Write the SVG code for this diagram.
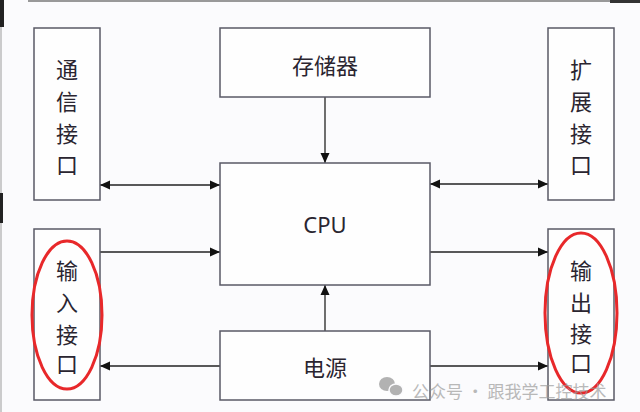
<svg xmlns="http://www.w3.org/2000/svg" width="640" height="412" viewBox="0 0 640 412">
<defs>
<style>
.box{fill:#fefefe;stroke:#5a5a66;stroke-width:1.5}
.lbl{font-family:"Noto Sans CJK SC","Noto Sans",sans-serif;font-size:22px;fill:#2a2530;text-anchor:middle;dominant-baseline:central}
.con{stroke:#222;stroke-width:1.3;fill:none}
.ring{fill:none;stroke:#e8282a;stroke-width:3}
.wm{font-family:"Noto Sans CJK SC",sans-serif;font-size:17px;fill:#9a9a9a;opacity:0.85}
</style>
<marker id="ah" viewBox="0 0 10 10" refX="10" refY="5" markerWidth="10" markerHeight="10" markerUnits="userSpaceOnUse" orient="auto-start-reverse">
<path d="M0,0.5 L10,5 L0,9.5 Z" fill="#111"/>
</marker>
</defs>
<rect width="640" height="412" fill="#fbfbfd"/>
<line x1="28" y1="1" x2="610" y2="1" stroke="#999" stroke-width="2"/>
<line x1="1" y1="0" x2="1" y2="412" stroke="#bbb" stroke-width="1.5"/>
<rect x="0" y="0" width="4" height="27" fill="#222"/>
<rect x="0" y="193" width="3" height="30" fill="#222"/>
<rect x="610" y="0" width="30" height="3" fill="#333"/>
<g id="connectors">
<line class="con" x1="325" y1="97" x2="325" y2="163" marker-end="url(#ah)"/>
<line class="con" x1="100" y1="185" x2="220" y2="185" marker-start="url(#ah)" marker-end="url(#ah)"/>
<line class="con" x1="430" y1="184" x2="548" y2="184" marker-start="url(#ah)" marker-end="url(#ah)"/>
<line class="con" x1="100" y1="252" x2="220" y2="252" marker-end="url(#ah)"/>
<line class="con" x1="430" y1="252" x2="548" y2="252" marker-end="url(#ah)"/>
<line class="con" x1="325" y1="331" x2="325" y2="285" marker-end="url(#ah)"/>
<line class="con" x1="220" y1="366" x2="100" y2="366" marker-end="url(#ah)"/>
<line class="con" x1="430" y1="366" x2="548" y2="366" marker-end="url(#ah)"/>
</g>
<g id="comm">
<rect class="box" x="34" y="28" width="66" height="172"/>
<text class="lbl" x="67" y="68">通</text>
<text class="lbl" x="67" y="100">信</text>
<text class="lbl" x="67" y="132">接</text>
<text class="lbl" x="67" y="163">口</text>
</g>
<g id="memory">
<rect class="box" x="220" y="28" width="210" height="69"/>
<text class="lbl" x="325" y="64">存储器</text>
</g>
<g id="expand">
<rect class="box" x="548" y="28" width="66" height="172"/>
<text class="lbl" x="581" y="68">扩</text>
<text class="lbl" x="581" y="100">展</text>
<text class="lbl" x="581" y="132">接</text>
<text class="lbl" x="581" y="163">口</text>
</g>
<g id="cpu">
<rect class="box" x="220" y="163" width="210" height="122"/>
<text class="lbl" x="325" y="224" style="font-family:'Noto Sans',sans-serif">CPU</text>
</g>
<g id="input">
<rect class="box" x="34" y="229" width="66" height="171"/>
<text class="lbl" x="67" y="269">输</text>
<text class="lbl" x="67" y="301">入</text>
<text class="lbl" x="67" y="333">接</text>
<text class="lbl" x="67" y="362">口</text>
<ellipse class="ring" cx="67" cy="315" rx="35" ry="74"/>
</g>
<g id="output">
<rect class="box" x="548" y="229" width="66" height="171"/>
<text class="lbl" x="581" y="269">输</text>
<text class="lbl" x="581" y="301">出</text>
<text class="lbl" x="581" y="332">接</text>
<text class="lbl" x="581" y="361">口</text>
<ellipse class="ring" cx="581" cy="313" rx="36" ry="80"/>
</g>
<g id="power">
<rect class="box" x="220" y="331" width="210" height="69"/>
<text class="lbl" x="325" y="366">电源</text>
</g>
<g id="watermark" opacity="0.8">
<ellipse cx="387" cy="384" rx="8" ry="7" fill="#a0a0a0"/>
<ellipse cx="396" cy="390" rx="7" ry="6" fill="#a0a0a0" stroke="#fbfbfd" stroke-width="1.5"/>
<text class="wm" x="412" y="398">公众号 · 跟我学工控技术</text>
</g>
</svg>
